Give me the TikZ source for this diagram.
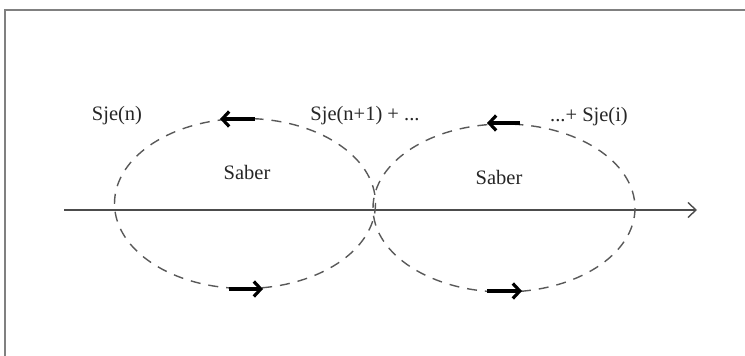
\documentclass[tikz,border=0pt]{standalone}
\usepackage{fontspec}
\setmainfont{Liberation Serif}
\usetikzlibrary{arrows.meta}
\begin{document}
\begin{tikzpicture}[x=1pt,y=-1pt,
  lbl/.style={font=\fontsize{20.5}{24}\selectfont, inner sep=0pt, text=black!85},
  loopline/.style={draw=black!65, line width=1.4pt, dash pattern=on 10pt off 8pt},
  flow/.style={draw=black, line width=3.2pt, -{Straight Barb[length=7pt,width=15pt]}},
  axisline/.style={draw=black!70, line width=1.4pt, -{Straight Barb[length=8pt,width=15pt]}},
  frameline/.style={draw=black!50, line width=2pt}]
\useasboundingbox (0,0) rectangle (745,356);
% frame (only top and left edges visible)
\draw[frameline] (5,356) -- (5,10) -- (745,10);
% axis
\coordinate (axL) at (64,210);
\coordinate (axR) at (697,210);
\draw[axisline] (axL) -- (axR);
% dashed loops
\draw[loopline] (245,203.5) ellipse [x radius=130.5, y radius=85];
\draw[loopline] (504,208) ellipse [x radius=131, y radius=84];
% direction arrows
\coordinate (t1a) at (255,119); \coordinate (t1b) at (220,119);
\coordinate (t2a) at (520,123); \coordinate (t2b) at (487,123);
\coordinate (b1a) at (229,289); \coordinate (b1b) at (263,289);
\coordinate (b2a) at (487,291); \coordinate (b2b) at (522,291);
\draw[flow] (t1a) -- (t1b);
\draw[flow] (t2a) -- (t2b);
\draw[flow] (b1a) -- (b1b);
\draw[flow] (b2a) -- (b2b);
% labels
\node[lbl] (sjn) at (117,116) {Sje(n)};
\node[lbl] (sjn1) at (365,116) {Sje(n+1) + ...};
\node[lbl] (sji) at (589,117) {...+ Sje(i)};
\node[lbl] (sab1) at (247,172) {Saber};
\node[lbl] (sab2) at (499,177) {Saber};
\end{tikzpicture}
\end{document}
